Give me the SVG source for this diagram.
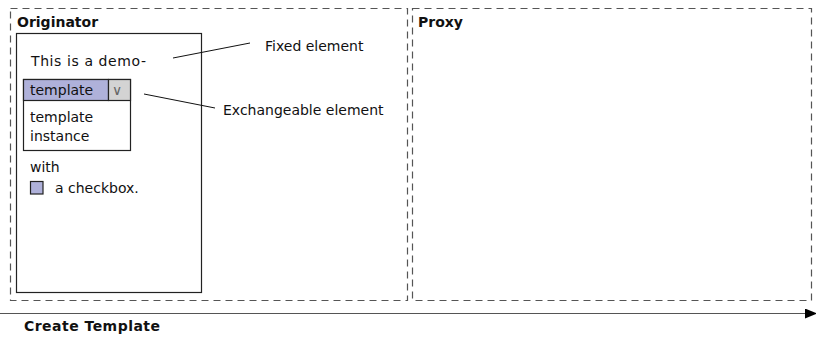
<svg xmlns="http://www.w3.org/2000/svg" width="816" height="337" viewBox="0 0 816 337">
  <defs>
    <style>
      .t { font-family: "DejaVu Sans", "Liberation Sans", sans-serif; font-size: 14px; fill: #111; }
      .b { font-weight: bold; }
      .lane { fill: none; stroke: #555; stroke-width: 1.2; stroke-dasharray: 7 5; }
      .solid { fill: #fff; stroke: #222; stroke-width: 1.2; }
      .lead { stroke: #111; stroke-width: 1; fill: none; }
      .sel { fill: #AFB1DA; stroke: #222; stroke-width: 1.2; }
    </style>
    <marker id="arr" markerWidth="12" markerHeight="10" refX="11" refY="5" orient="auto" markerUnits="userSpaceOnUse">
      <path d="M0,0 L12,5 L0,10 Z" fill="#000"/>
    </marker>
  </defs>
  <rect width="816" height="337" fill="#fff"/>

  <g id="originator">
    <rect class="lane" x="10.5" y="8.5" width="397" height="292"/>
    <text class="t b" x="17" y="27">Originator</text>
    <rect class="solid" x="16.5" y="33.5" width="185" height="259"/>
    <text class="t" x="31" y="66" textLength="115">This is a demo-</text>
    <g id="dropdown">
      <rect x="23.5" y="79.5" width="107" height="71" fill="#fff" stroke="#222" stroke-width="1.2"/>
      <rect class="sel" x="23.5" y="79.5" width="85" height="21"/>
      <rect x="108.5" y="79.5" width="22" height="21" fill="#D3D3D3" stroke="#222" stroke-width="1.2"/>
      <text class="t" x="30" y="95">template</text>
      <text class="t" x="112" y="95" style="fill:#666">∨</text>
      <text class="t" x="30" y="122">template</text>
      <text class="t" x="30" y="141">instance</text>
    </g>
    <text class="t" x="30" y="172">with</text>
    <rect class="sel" x="30.5" y="181.5" width="12.5" height="12.5"/>
    <text class="t" x="55" y="193">a checkbox.</text>
  </g>

  <g id="proxy">
    <rect class="lane" x="412.5" y="8.5" width="399" height="292"/>
    <text class="t b" x="418" y="27">Proxy</text>
  </g>

  <g id="labels">
    <text class="t" x="265" y="51">Fixed element</text>
    <text class="t" x="223" y="115">Exchangeable element</text>
  </g>

  <g id="connectors">
    <line class="lead" x1="173" y1="58" x2="250" y2="43"/>
    <line class="lead" x1="144" y1="94" x2="215" y2="108"/>
    <line x1="0" y1="313.5" x2="816" y2="313.5" stroke="#555" stroke-width="1.2" marker-end="url(#arr)"/>
  </g>

  <text class="t b" x="24" y="331" textLength="136">Create Template</text>
</svg>
